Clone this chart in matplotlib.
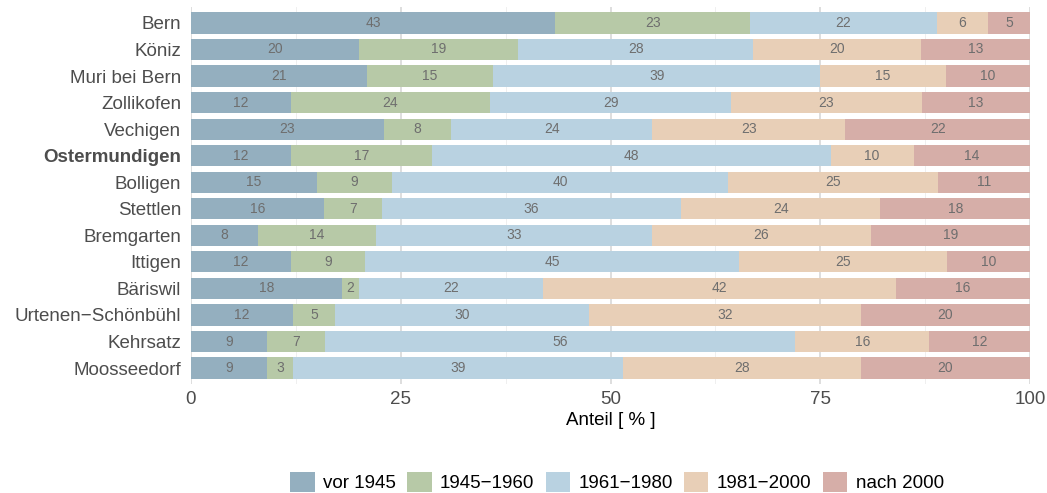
import matplotlib.pyplot as plt
import numpy as np
from matplotlib.patches import Patch

plt.rcParams['font.family'] = ['Liberation Sans', 'DejaVu Sans']

gemeinden = ["Bern", "Köniz", "Muri bei Bern", "Zollikofen", "Vechigen", "Ostermundigen",
             "Bolligen", "Stettlen", "Bremgarten", "Ittigen", "Bäriswil",
             "Urtenen−Schönbühl", "Kehrsatz", "Moosseedorf"]
perioden = ["vor 1945", "1945−1960", "1961−1980", "1981−2000", "nach 2000"]
vor_1945 = [43, 20, 21, 12, 23, 12, 15, 16, 8, 12, 18, 12, 9, 9]
p_1945_1960 = [23, 19, 15, 24, 8, 17, 9, 7, 14, 9, 2, 5, 7, 3]
p_1961_1980 = [22, 28, 39, 29, 24, 48, 40, 36, 33, 45, 22, 30, 56, 39]
p_1981_2000 = [6, 20, 15, 23, 23, 10, 25, 24, 26, 25, 42, 32, 16, 28]
nach_2000 = [5, 13, 10, 13, 22, 14, 11, 18, 19, 10, 16, 20, 12, 20]
farben = ["#94afbf", "#b7c9a7", "#b9d2e1", "#e8cfb7", "#d6aea8"]

werte = np.array([vor_1945, p_1945_1960, p_1961_1980, p_1981_2000, nach_2000], dtype=float)
anteile = werte / werte.sum(axis=0) * 100  # labels are rounded, bars fill 100 %

fig = plt.figure(figsize=(10.47, 4.93), dpi=100)
ax = fig.add_axes([191 / 1047, 1 - 384 / 493, 839 / 1047, 377 / 493])

y = np.arange(len(gemeinden))
links = np.zeros(len(gemeinden))
for i, periode in enumerate(perioden):
    ax.barh(y, anteile[i], left=links, height=0.8, color=farben[i], label=periode, zorder=2)
    for j in range(len(gemeinden)):
        ax.text(links[j] + anteile[i][j] / 2, y[j], str(int(werte[i][j])),
                ha="center", va="center", fontsize=10, color="#6e6e6e", zorder=3)
    links += anteile[i]

ax.set_ylim(len(gemeinden) - 0.4, -0.6)
ax.set_xlim(0, 100)
ax.set_yticks(y)
ax.set_yticklabels(gemeinden, fontsize=13.5, color="#4d4d4d")
ax.get_yticklabels()[gemeinden.index("Ostermundigen")].set_fontweight("bold")
ax.set_xticks([0, 25, 50, 75, 100])
ax.set_xticklabels(["0", "25", "50", "75", "100"], fontsize=13.5, color="#4d4d4d")
ax.set_xticks([12.5, 37.5, 62.5, 87.5], minor=True)
ax.tick_params(axis="y", length=0, which="both", pad=7)
ax.tick_params(axis="x", length=0, which="both", pad=5)
ax.grid(axis="x", which="major", color="#d4d4d4", linewidth=1.1, zorder=0)
ax.grid(axis="x", which="minor", color="#ececec", linewidth=0.6, zorder=0)
for s in ax.spines.values():
    s.set_visible(False)
ax.set_xlabel("Anteil [ % ]", fontsize=13.5, color="black", labelpad=3)

handles = [Patch(facecolor=f, label=p) for f, p in zip(farben, perioden)]
fig.legend(handles=handles, loc="center", bbox_to_anchor=(617 / 1047, 1 - 482 / 493),
           ncol=5, frameon=False, fontsize=13.5, handlelength=1.3, handleheight=1.3,
           handletextpad=0.45, columnspacing=0.6)

fig.savefig("out.png", dpi=100)
